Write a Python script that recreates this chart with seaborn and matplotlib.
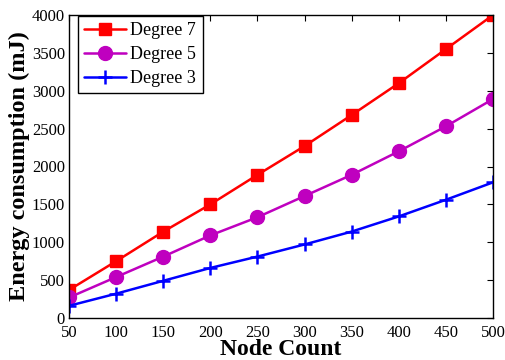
import matplotlib
matplotlib.use("Agg")
import matplotlib.pyplot as plt
import seaborn as sns
import pandas as pd

node_count = [50, 100, 150, 200, 250, 300, 350, 400, 450, 500]
degree_7 = [370, 750, 1140, 1500, 1890, 2270, 2680, 3100, 3550, 4000]
degree_5 = [270, 540, 810, 1090, 1330, 1610, 1890, 2200, 2530, 2890]
degree_3 = [160, 320, 490, 660, 810, 970, 1140, 1340, 1560, 1790]
x_ticks = [50, 100, 150, 200, 250, 300, 350, 400, 450, 500]
y_ticks = [0, 500, 1000, 1500, 2000, 2500, 3000, 3500, 4000]

sns.set_theme(style="white")
plt.rcParams["font.family"] = ["Liberation Serif", "DejaVu Serif"]
plt.rcParams["text.color"] = "black"
plt.rcParams["axes.labelcolor"] = "black"
plt.rcParams["xtick.color"] = "black"
plt.rcParams["ytick.color"] = "black"

fig = plt.figure(figsize=(5.05, 3.6), dpi=100)
ax = fig.add_axes([0.137, 0.117, 0.839, 0.841])

series = [
    ("Degree 7", degree_7, "#ff0000", "s", 8, 1.0),
    ("Degree 5", degree_5, "#bf00bf", "o", 10, 1.0),
    ("Degree 3", degree_3, "#0000ff", "+", 10, 1.8),
]
for label, vals, color, marker, ms, mew in series:
    df = pd.DataFrame({"Node Count": node_count, "Energy": vals})
    sns.lineplot(data=df, x="Node Count", y="Energy", ax=ax, color=color,
                 marker=marker, markersize=ms, markeredgewidth=mew,
                 markeredgecolor=color, linewidth=1.8, label=label)

ax.set_xlim(50, 500)
ax.set_ylim(0, 4000)
ax.set_xticks(x_ticks)
ax.set_yticks(y_ticks)
ax.tick_params(direction="in", length=4, width=0.8, top=True, right=True,
               labelsize=12, colors="black", pad=3)
ax.tick_params(axis="x", pad=5)
for sp in ax.spines.values():
    sp.set_color("black")
    sp.set_linewidth(1.0)

ax.set_xlabel("Node Count", fontsize=17, fontweight="bold", labelpad=-1,
              color="black")
ax.set_ylabel("Energy consumption (mJ)", fontsize=17.5, fontweight="bold",
              labelpad=1, color="black")

leg = ax.legend(loc="upper left", bbox_to_anchor=(0.021, 0.997),
                borderaxespad=0, fontsize=13, frameon=True, fancybox=False,
                edgecolor="black", framealpha=1, handlelength=2.3,
                labelspacing=0.38, borderpad=0.35, handletextpad=0.25)
leg.get_frame().set_linewidth(1.0)
for t in leg.get_texts():
    t.set_color("black")

fig.savefig("out.png", dpi=100)
